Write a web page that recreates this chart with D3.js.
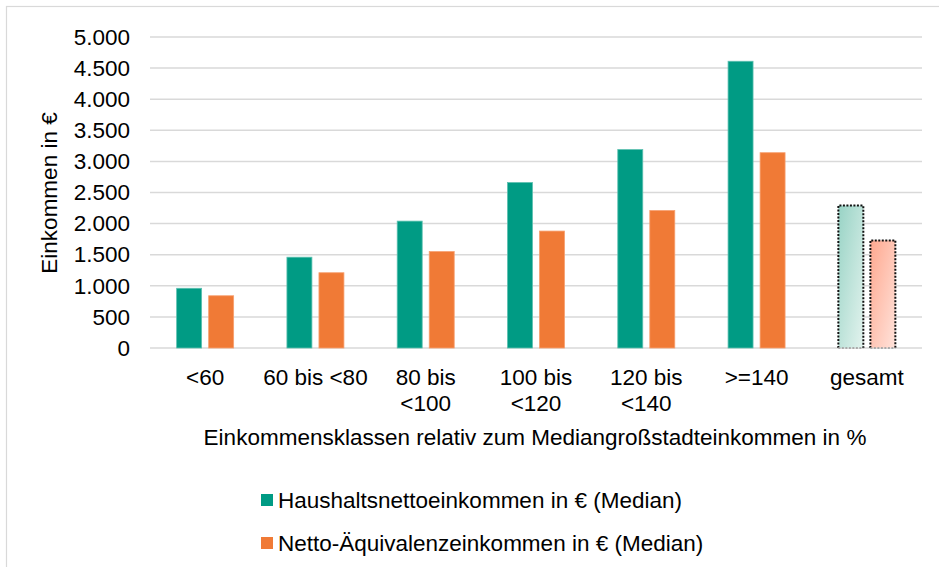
<!DOCTYPE html>
<html><head><meta charset="utf-8">
<script src="https://cdn.jsdelivr.net/npm/d3@7"></script>
<style>body{margin:0;background:#fff;} svg{display:block;} text{font-family:"Liberation Sans",Arial,sans-serif;fill:#000;}</style>
</head><body>
<svg id="c" width="939" height="567"></svg>
<script>
const categories = ["<60", "60 bis <80", "80 bis <100", "100 bis <120", "120 bis <140", ">=140", "gesamt"];
const categoryLines = [["<60"], ["60 bis <80"], ["80 bis", "<100"], ["100 bis", "<120"], ["120 bis", "<140"], [">=140"], ["gesamt"]];
const seriesNames = ["Haushaltsnettoeinkommen in € (Median)", "Netto-Äquivalenzeinkommen in € (Median)"];
const haushalt = [960, 1460, 2040, 2660, 3190, 4610, 2290];
const aequivalenz = [840, 1210, 1550, 1880, 2210, 3140, 1730];
const yTicks = [0, 500, 1000, 1500, 2000, 2500, 3000, 3500, 4000, 4500, 5000];
const colors = ["#009B84", "#F07A36"];

(function(){
const FS = "22.5px";
const svg = d3.select("#c");
const defs = svg.append("defs");
const g1 = defs.append("linearGradient").attr("id","gG").attr("x1","0").attr("y1","0").attr("x2","1").attr("y2","1");
g1.append("stop").attr("offset","0").attr("stop-color","#98d3c5");
g1.append("stop").attr("offset","1").attr("stop-color","#e3f3ee");
const g2 = defs.append("linearGradient").attr("id","gO").attr("x1","0").attr("y1","0").attr("x2","1").attr("y2","1");
g2.append("stop").attr("offset","0").attr("stop-color","#ffa88f");
g2.append("stop").attr("offset","1").attr("stop-color","#ffe3db");

// frame
svg.append("rect").attr("x",6.5).attr("y",6.5).attr("width",940).attr("height",570)
  .attr("fill","none").attr("stroke","#d9d9d9").attr("stroke-width",1.2);

const pLeft = 150, pRight = 922, pTop = 37, pBottom = 348;
const x = d3.scaleBand().domain(categories).range([pLeft, pRight]).padding(0);
const bw = x.bandwidth();
const x1 = d3.scaleBand().domain([0,1]).range([bw/2-28.5, bw/2+28.5]).paddingInner(0.22);
const y = d3.scaleLinear().domain([0, 5000]).range([pBottom, pTop]);

// gridlines
svg.append("g").selectAll("line").data(yTicks).join("line")
  .attr("x1", pLeft).attr("x2", pRight)
  .attr("y1", d => y(d)).attr("y2", d => y(d))
  .attr("stroke", "#d9d9d9").attr("stroke-width", 1.5);

// y axis labels
const yAxis = d3.axisLeft(y).tickValues(yTicks).tickSize(0).tickPadding(0)
  .tickFormat(d => d3.format(",")(d).replace(/,/g, "."));
const ya = svg.append("g").attr("transform", `translate(130,0)`).call(yAxis);
ya.select(".domain").remove();
ya.selectAll("text").style("font-size",FS).style("font-family","Liberation Sans, Arial, sans-serif").attr("fill","#000");

// bars
const data = categories.map((c,i) => ({c, i, v:[haushalt[i], aequivalenz[i]]}));
const grp = svg.append("g").selectAll("g").data(data).join("g")
  .attr("transform", d => `translate(${x(d.c)},0)`);
const bars = d => d.v.map((v,k) => ({v,k,last: d.c === "gesamt"}));
grp.selectAll("rect").data(bars).join("rect")
  .attr("x", d => x1(d.k)).attr("width", x1.bandwidth())
  .attr("y", d => y(d.v)).attr("height", d => y(0) - y(d.v))
  .attr("fill", d => d.last ? (d.k===0 ? "url(#gG)" : "url(#gO)") : colors[d.k])
  .attr("stroke", d => d.last ? "none" : (d.k===0 ? "#5cc0b0" : "#f7a070"))
  .attr("stroke-width", 0.8);
// dotted outline for "gesamt" bars (bottom edge light)
grp.filter(d => d.c === "gesamt").selectAll("path.top").data(bars).join("path")
  .attr("d", d => { const x0 = x1(d.k), x2 = x0 + x1.bandwidth(); return `M${x0},${y(0)}V${y(d.v)}H${x2}V${y(0)}`; })
  .attr("fill","none").attr("stroke","#111").attr("stroke-width",2).attr("stroke-dasharray","2,1.5");
grp.filter(d => d.c === "gesamt").selectAll("path.bot").data(bars).join("path")
  .attr("d", d => { const x0 = x1(d.k), x2 = x0 + x1.bandwidth(); return `M${x0},${y(0)}H${x2}`; })
  .attr("fill","none").attr("stroke","#aaa").attr("stroke-width",2).attr("stroke-dasharray","2,1.5");

// x labels
const xl = svg.append("g").selectAll("text").data(categories).join("text")
  .attr("x", d => x(d) + bw/2).attr("y", 385)
  .attr("text-anchor","middle").style("font-size",FS);
xl.each(function(d,i){
  const t = d3.select(this);
  categoryLines[i].forEach((ln, j) => t.append("tspan").attr("x", x(d)+bw/2).attr("dy", j===0?0:26).text(ln));
});

// axis titles
svg.append("text").attr("x", 535).attr("y", 445).attr("text-anchor","middle").style("font-size",FS)
  .text("Einkommensklassen relativ zum Mediangroßstadteinkommen in %");
svg.append("text").attr("transform","translate(57,193) rotate(-90)").attr("text-anchor","middle").style("font-size",FS)
  .text("Einkommen in €");

// legend
const lg = svg.append("g").selectAll("g").data(seriesNames).join("g")
  .attr("transform", (d,i) => `translate(261,${494 + i*43})`);
lg.append("rect").attr("width",12).attr("height",12).attr("fill",(d,i)=>colors[i]);
lg.append("text").attr("x",17).attr("y",14).style("font-size",FS).text(d=>d);
})();
</script>
</body></html>
